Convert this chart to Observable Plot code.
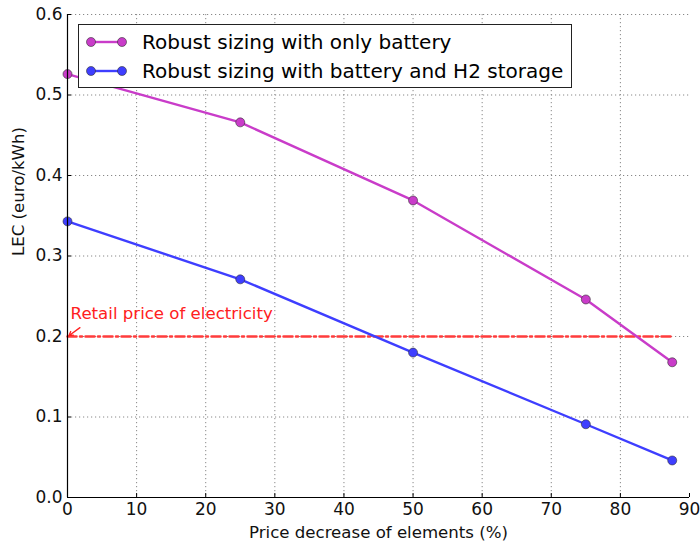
<!DOCTYPE html>
<html>
<head>
<meta charset="utf-8">
<script src="https://cdn.jsdelivr.net/npm/d3@7"></script>
<script src="https://cdn.jsdelivr.net/npm/@observablehq/plot@0.6"></script>
<style>
  body { margin: 0; background: #fff; font-family: "DejaVu Sans", sans-serif; }
  #wrap { position: relative; width: 700px; height: 545px; }
  #legend { position: absolute; left: 78px; top: 24px; width: 494px; height: 64px;
    border: 1px solid #222; background: #fff; box-sizing: border-box; font-size: 20px; color: #000; }
  .row { position: absolute; left: 0; height: 26px; display: flex; align-items: center; }
  .row svg { margin-left: 7px; margin-right: 14px; }
</style>
</head>
<body>
<div id="wrap"></div>
<script>
const xPct = [0, 25, 50, 75, 87.5];
const batteryOnly = [0.526, 0.466, 0.369, 0.246, 0.168];
const batteryH2 = [0.343, 0.271, 0.180, 0.091, 0.046];
const seriesNames = ["Robust sizing with only battery", "Robust sizing with battery and H2 storage"];
const seriesColors = ["#c93cc9", "#3e3eff"];
const retailPrice = 0.2;
const retailLabel = "Retail price of electricity";
const xTicks = [0, 10, 20, 30, 40, 50, 60, 70, 80, 90];
const yTicks = [0, 0.1, 0.2, 0.3, 0.4, 0.5, 0.6];

const rows = [];
xPct.forEach((x, i) => rows.push({x, y: batteryOnly[i], s: seriesNames[0]}));
xPct.forEach((x, i) => rows.push({x, y: batteryH2[i], s: seriesNames[1]}));
const retail = [{x: 0, y: retailPrice}, {x: 87.5, y: retailPrice}];

const chart = Plot.plot({
  width: 700, height: 545,
  marginLeft: 67, marginRight: 11, marginTop: 14, marginBottom: 48,
  style: {fontFamily: "DejaVu Sans, sans-serif", fontSize: "17px", color: "#000", background: "#fff"},
  x: {domain: [0, 90], axis: null},
  y: {domain: [0, 0.6], axis: null},
  color: {domain: seriesNames, range: seriesColors},
  marks: [
    Plot.ruleX(xTicks.slice(1, -1), {stroke: "#888", strokeDasharray: "1.2,2.8", strokeWidth: 1}),
    Plot.ruleY(yTicks.slice(1), {stroke: "#888", strokeDasharray: "1.2,2.8", strokeWidth: 1}),
    Plot.axisX(xTicks, {tickSize: 0, tickPadding: 5, tickFormat: d => String(d), fontSize: 17, fill: "#111"}),
    Plot.axisY(yTicks, {tickSize: 0, tickPadding: 5, tickFormat: d => d.toFixed(1), fontSize: 17, fill: "#111"}),
    Plot.axisX(xTicks, {tickSize: -4, text: null, label: null, stroke: "#000"}),
    Plot.axisY(yTicks, {tickSize: -4, text: null, label: null, stroke: "#000"}),
    Plot.line(retail, {x: "x", y: "y", stroke: "#ff3c3c", strokeWidth: 2.5, strokeDasharray: "9,3.5,2,3.5"}),
    Plot.line(rows, {x: "x", y: "y", z: "s", stroke: "s", strokeWidth: 2.4}),
    Plot.dot(rows, {x: "x", y: "y", fill: "s", r: 4.5, stroke: "#333", strokeOpacity: 0.6, strokeWidth: 1}),
    Plot.arrow([{x1: 1.8, y1: 0.211, x2: 0.2, y2: 0.201}], {x1: "x1", y1: "y1", x2: "x2", y2: "y2", stroke: "#ff2020", strokeWidth: 1.3, headLength: 6}),
    Plot.text([retailLabel], {x: 0.45, y: 0.228, text: d => d, textAnchor: "start", fill: "#ff2020", fontSize: 16.6}),
    Plot.ruleY([0], {stroke: "#000", strokeWidth: 1.2}),
    Plot.ruleX([0], {stroke: "#000", strokeWidth: 1.2}),
    Plot.text(["Price decrease of elements (%)"], {frameAnchor: "bottom", dy: 40, text: d => d, fontSize: 16.6, fill: "#111"}),
    Plot.text(["LEC (euro/kWh)"], {frameAnchor: "left", dx: -49, rotate: -90, text: d => d, fontSize: 16.6, fill: "#111"})
  ]
});

const wrap = document.getElementById("wrap");
wrap.appendChild(chart);

const legend = document.createElement("div");
legend.id = "legend";
seriesNames.forEach((name, i) => {
  const row = document.createElement("div");
  row.className = "row";
  row.style.top = (4 + i * 29) + "px";
  row.innerHTML = `<svg width="42" height="14"><line x1="5" y1="7" x2="36" y2="7" stroke="${seriesColors[i]}" stroke-width="2.4"/>` +
    `<circle cx="5" cy="7" r="4.5" fill="${seriesColors[i]}" stroke="#333" stroke-opacity="0.6"/>` +
    `<circle cx="36" cy="7" r="4.5" fill="${seriesColors[i]}" stroke="#333" stroke-opacity="0.6"/></svg><span>${name}</span>`;
  legend.appendChild(row);
});
wrap.appendChild(legend);
</script>
</body>
</html>
